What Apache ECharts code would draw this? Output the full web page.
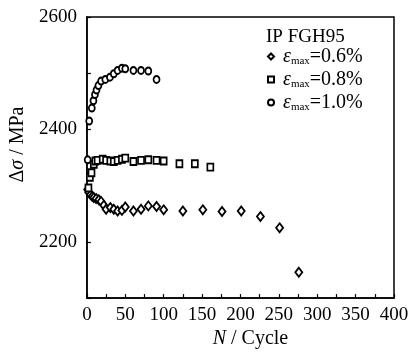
<!DOCTYPE html>
<html><head><meta charset="utf-8">
<script src="https://cdn.jsdelivr.net/npm/echarts@6/dist/echarts.min.js"></script>
<style>html,body{margin:0;padding:0;background:#fff}#c{width:417px;height:354px}</style>
</head><body><div id="c"></div>
<script>
// Data
const seriesNames = ['0.6%', '0.8%', '1.0%'];
const cyc06 = [1, 2.5, 4.7, 7, 9, 12, 15.5, 18.5, 22, 25, 30.5, 35, 40, 45.6, 50, 60.6, 70.5, 80, 90.7, 100, 125, 151, 176, 201, 226, 251, 276];
const ds06  = [2293, 2288, 2284, 2281, 2279, 2277, 2275, 2272, 2265, 2258, 2261, 2258, 2255, 2256, 2262, 2255, 2258, 2264, 2263, 2257, 2255, 2257, 2254, 2255, 2245, 2225, 2146];
const cyc08 = [2, 3.9, 6, 9, 11, 14, 20.6, 25, 30.5, 35, 40, 45.6, 50, 60.6, 70.5, 80, 90.7, 100, 120.5, 140.6, 160.8];
const ds08  = [2296, 2315, 2323, 2338, 2344, 2345, 2347, 2345, 2344, 2343, 2345, 2347, 2349, 2343, 2345, 2346, 2345, 2344, 2339, 2339, 2333];
const cyc10 = [1, 3, 6.4, 8.5, 10.5, 12.5, 15, 18.5, 24, 30, 35, 40, 45.6, 50, 60.6, 70.5, 80, 90.7];
const ds10  = [2346, 2415, 2438, 2451, 2462, 2470, 2478, 2486, 2489, 2493, 2499, 2505, 2509, 2508, 2505, 2505, 2504, 2489];
const yTickLabels = [2200, 2400, 2600];
const xTickLabels = [0, 50, 100, 150, 200, 250, 300, 350, 400];

const pair = (xs, ys) => xs.map((x, i) => [x, ys[i]]);
const font = 'Liberation Serif, Times New Roman, serif';
const mk = (name, data, symbol, size) => ({
  name: name, type: 'scatter', data: data, symbol: symbol, symbolSize: size,
  itemStyle: { color: '#fff', borderColor: '#000', borderWidth: 1.8, opacity: 1 },
  emphasis: { disabled: true }
});

const chart = echarts.init(document.getElementById('c'), null, { renderer: 'canvas' });
chart.setOption({
  animation: false,
  backgroundColor: '#fff',
  grid: { left: 83, right: 23, top: 17, bottom: 50, show: true, borderColor: '#000', borderWidth: 1.5 },
  title: {
    text: 'IP FGH95', left: 261, top: 23,
    textStyle: { fontFamily: font, fontSize: 19, fontWeight: 'normal', color: '#000' }
  },
  legend: {
    orient: 'vertical', left: 262, top: 39, itemGap: 0, itemWidth: 6, itemHeight: 6,
    data: seriesNames,
    formatter: n => '{e|ε}{s|max}{t|=' + n + '}',
    textStyle: {
      fontFamily: font, color: '#000', lineHeight: 21, padding: [0, 0, 0, 4],
      rich: {
        e: { fontFamily: font, fontStyle: 'italic', fontSize: 20, color: '#000', lineHeight: 21 },
        s: { fontFamily: font, fontSize: 11, color: '#000', verticalAlign: 'bottom', padding: [12, 0, 0, 0], lineHeight: 21 },
        t: { fontFamily: font, fontSize: 20, color: '#000', lineHeight: 21 }
      }
    }
  },
  xAxis: {
    type: 'value', min: 0, max: 400, interval: 25,
    name: '{i|N} / Cycle', nameLocation: 'middle', nameGap: 30,
    nameTextStyle: {
      fontFamily: font, fontSize: 20, color: '#000', padding: [0, 0, 0, 20],
      rich: { i: { fontFamily: font, fontStyle: 'italic', fontSize: 20, color: '#000' } }
    },
    axisLine: { lineStyle: { color: '#000', width: 1.5 } },
    axisTick: { inside: true, length: 4, lineStyle: { color: '#000', width: 1.2 } },
    splitLine: { show: false },
    axisLabel: {
      fontFamily: font, fontSize: 19, color: '#000', margin: 7,
      formatter: v => xTickLabels.includes(v) ? String(v) : ''
    }
  },
  yAxis: {
    type: 'value', min: 2100, max: 2600, interval: 100,
    name: '{d|Δ}{i|σ} / MPa', nameLocation: 'middle', nameGap: 50,
    nameTextStyle: {
      fontFamily: font, fontSize: 20, color: '#000', padding: [0, 0, 0, 26],
      rich: {
        d: { fontFamily: font, fontSize: 20, color: '#000' },
        i: { fontFamily: font, fontStyle: 'italic', fontSize: 20, color: '#000' }
      }
    },
    axisLine: { lineStyle: { color: '#000', width: 1.5 } },
    axisTick: { inside: true, length: 4, lineStyle: { color: '#000', width: 1.2 } },
    splitLine: { show: false },
    axisLabel: {
      fontFamily: font, fontSize: 19, color: '#000', margin: 10,
      formatter: v => yTickLabels.includes(v) ? String(v) : ''
    }
  },
  series: [
    mk(seriesNames[0], pair(cyc06, ds06), 'diamond', [7, 9]),
    mk(seriesNames[1], pair(cyc08, ds08), 'rect', [6, 7]),
    mk(seriesNames[2], pair(cyc10, ds10), 'circle', [6, 7])
  ]
});
</script></body></html>
